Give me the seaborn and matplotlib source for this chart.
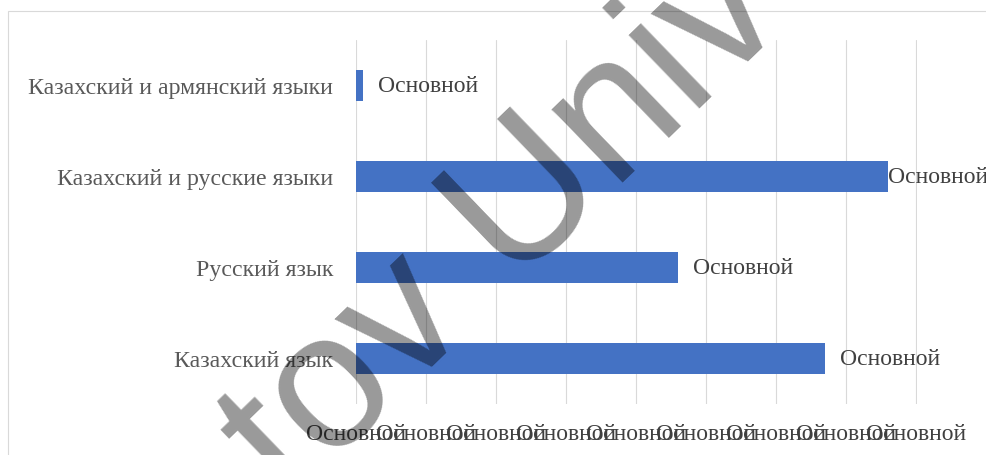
import matplotlib
matplotlib.use("Agg")
import matplotlib.pyplot as plt
import seaborn as sns
import pandas as pd
from matplotlib.patches import Rectangle

# ---- data ----
categories = ["Казахский и армянский языки", "Казахский и русские языки",
              "Русский язык", "Казахский язык"]
values = [0.1, 7.6, 4.6, 6.7]
bar_labels = ["Основной", "Основной", "Основной", "Основной"]
x_ticks = [0, 1, 2, 3, 4, 5, 6, 7, 8]
x_tick_labels = ["Основной"] * 9
watermark = "tov Univ"

sns.set_theme(style="white")
plt.rcParams["font.family"] = ["Liberation Serif", "DejaVu Serif"]

W, H = 986, 456
fig = plt.figure(figsize=(W / 100, H / 100), dpi=100)
fig.patch.set_facecolor("white")

ax = fig.add_axes([355.5 / W, 1 - 405 / H, (916.7 - 355.5) / W, 364 / H])
df = pd.DataFrame({"cat": categories, "val": values})
sns.barplot(data=df, x="val", y="cat", orient="h", color="#4472C4",
            saturation=1, width=0.35, linewidth=0, ax=ax)

ax.set_xlim(-0.005, 8.005)
ax.set_ylim(3.5, -0.5)
ax.set_xticks(x_ticks)
ax.set_xticklabels(x_tick_labels)
ax.grid(axis="x", color="#d9d9d9", linewidth=0.8)
ax.grid(axis="y", visible=False)
ax.set_axisbelow(True)
for s in ax.spines.values():
    s.set_visible(False)
ax.set_facecolor("white")
ax.tick_params(axis="y", length=0, pad=16, labelsize=17.2, labelcolor="#595959")
ax.tick_params(axis="x", length=0, pad=14, labelsize=17, labelcolor="#404040")
ax.set_xlabel("")
ax.set_ylabel("")

# data labels
offset_pt = 15 * 72 / 100
anns = []
for i, (v, lab) in enumerate(zip(values, bar_labels)):
    a = ax.annotate(lab, xy=(v, i), xytext=(offset_pt, 0), textcoords="offset points",
                    ha="left", va="center", fontsize=17, color="#404040",
                    annotation_clip=False)
    anns.append(a)

fig.canvas.draw()
renderer = fig.canvas.get_renderer()
for a in anns:
    bb = a.get_window_extent(renderer)
    if bb.x1 > W:
        a.xyann = (0, 0)

# chart frame
fig.add_artist(Rectangle((8 / W, -0.1), 1.2, (1 - 12 / H) + 0.1,
                         transform=fig.transFigure, fill=False,
                         edgecolor="#d9d9d9", linewidth=0.8))

# watermark
fig.text(290 / W, 1 - 505 / H, watermark, rotation=44, rotation_mode="anchor",
         ha="left", va="baseline", fontsize=139, family="Liberation Sans",
         color="black", alpha=0.4, zorder=10)

fig.savefig("out.png", dpi=100)
